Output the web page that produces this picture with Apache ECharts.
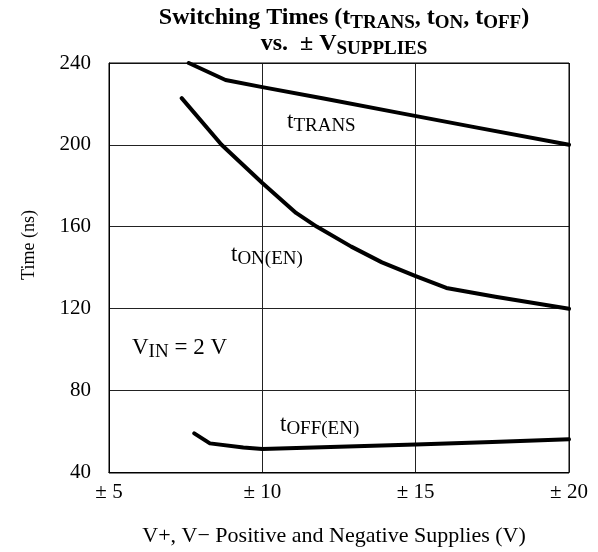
<!DOCTYPE html>
<html>
<head>
<meta charset="utf-8">
<script src="https://cdn.jsdelivr.net/npm/echarts@6/dist/echarts.min.js"></script>
<style>html,body{margin:0;padding:0;background:#fff}#c{width:598px;height:552px}</style>
</head>
<body>
<div id="c"></div>
<script>
// Supply voltage (±V) and switching times (ns)
const tTransX = [7.6, 8.8, 10, 12, 14.5, 17, 20];
const tTransY = [240, 231.7, 228.2, 222.6, 215.5, 208.4, 200];
const tOnX = [7.37, 8.67, 10, 11.1, 11.77, 12.9, 13.9, 15, 16, 17.6, 20];
const tOnY = [222.8, 200, 181.3, 166.7, 160, 150.2, 142.5, 135.8, 130, 125.7, 119.8];
const tOffX = [7.78, 8.29, 9.38, 10, 12.5, 15, 17.5, 20];
const tOffY = [58.9, 54, 52, 51.2, 52.3, 53.4, 54.7, 56];
const xTicks = [5, 10, 15, 20];
const yTicks = [40, 80, 120, 160, 200, 240];

const F = 'Liberation Serif';
const pair = (xs, ys) => xs.map((x, i) => [x, ys[i]]);
const lineSeries = (name, xs, ys) => ({
  name, type: 'line', data: pair(xs, ys), showSymbol: false, symbol: 'none',
  lineStyle: {color: '#000', width: 4, cap: 'round', join: 'round'}, smooth: false, z: 5
});
const subRich = {
  b: {fontFamily: F, fontSize: 23, color: '#000', lineHeight: 26},
  s: {fontFamily: F, fontSize: 19, color: '#000', lineHeight: 26, padding: [9, 0, 0, 0]}
};
const titleRich = {
  b: {fontFamily: F, fontSize: 24, fontWeight: 'bold', color: '#000', lineHeight: 26},
  s: {fontFamily: F, fontSize: 19, fontWeight: 'bold', color: '#000', lineHeight: 26, padding: [10, 0, 0, 0]}
};
function label(x, y, text, rich, align) {
  return {type: 'text', x, y, z: 10, style: {text, rich, align: align || 'left', verticalAlign: 'middle', fill: '#000', font: '20px ' + F}};
}

const chart = echarts.init(document.getElementById('c'));
chart.setOption({
  backgroundColor: '#fff',
  animation: false,
  grid: {left: 109, right: 29, top: 63, bottom: 79},
  xAxis: {
    type: 'value', min: 5, max: 20, interval: 5,
    axisLine: {show: true, lineStyle: {color: '#000', width: 1}},
    axisTick: {show: false},
    splitLine: {show: true, lineStyle: {color: '#222', width: 1}},
    axisLabel: {fontFamily: F, fontSize: 21, color: '#000', margin: 10, formatter: v => '± ' + v},
    name: 'V+, V− Positive and Negative Supplies (V)', nameLocation: 'middle', nameGap: 53,
    nameTextStyle: {fontFamily: F, fontSize: 22, color: '#000', padding: [0, 10, 0, 0]}
  },
  yAxis: {
    type: 'value', min: 40, max: 240, interval: 40,
    axisLine: {show: true, lineStyle: {color: '#000', width: 1}},
    axisTick: {show: false},
    splitLine: {show: true, lineStyle: {color: '#222', width: 1}},
    axisLabel: {fontFamily: F, fontSize: 21, color: '#000', margin: 18}
  },
  graphic: [
    {type: 'rect', shape: {x: 109, y: 63, width: 460, height: 410}, style: {fill: 'none', stroke: '#000', lineWidth: 1}, z: 4},
    label(344, 18, '{b|Switching Times (t}{s|TRANS}{b|, t}{s|ON}{b|, t}{s|OFF}{b|)}', titleRich, 'center'),
    label(344, 44, '{b|vs.  ± V}{s|SUPPLIES}', titleRich, 'center'),
    {type: 'text', x: 29, y: 245, rotation: Math.PI / 2, z: 10,
      style: {text: 'Time (ns)', font: '18px ' + F, fill: '#000', align: 'center', verticalAlign: 'middle'}},
    label(287, 122, '{b|t}{s|TRANS}', subRich),
    label(231, 255, '{b|t}{s|ON(EN)}', subRich),
    label(280, 425, '{b|t}{s|OFF(EN)}', subRich),
    label(132, 348, '{b|V}{s|IN}{b| = 2 V}', subRich)
  ],
  series: [
    lineSeries('tTRANS', tTransX, tTransY),
    lineSeries('tON(EN)', tOnX, tOnY),
    lineSeries('tOFF(EN)', tOffX, tOffY)
  ]
});
</script>
</body>
</html>
